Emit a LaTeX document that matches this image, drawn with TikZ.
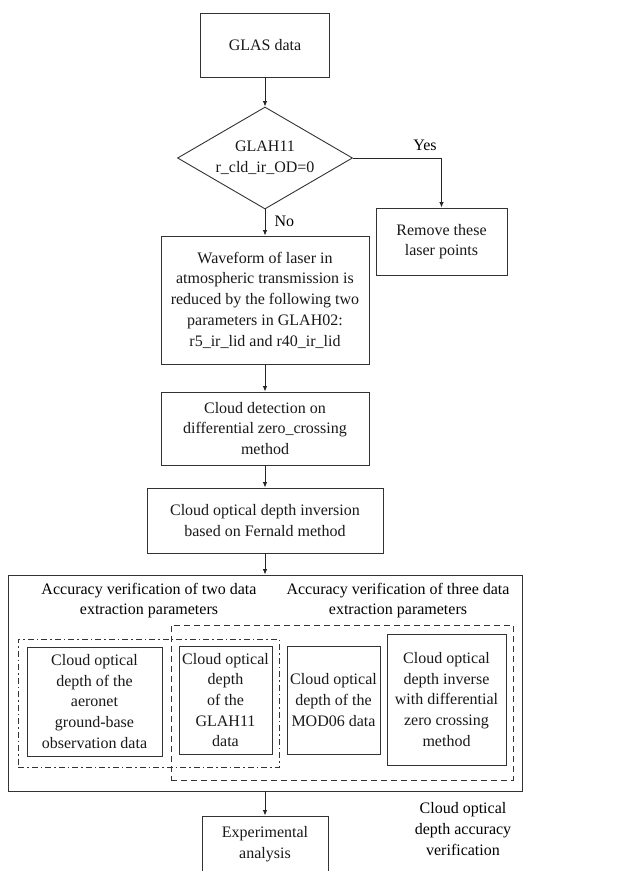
\documentclass[tikz,border=0pt]{standalone}
\usepackage{fontspec}
\setmainfont{Liberation Serif}
\usetikzlibrary{shapes.geometric,arrows.meta}

\begin{document}
\begin{tikzpicture}[x=1pt,y=-1pt,font=\fontsize{16}{20.7}\selectfont,
  box/.style={draw=black!80,line width=0.9pt,align=center,inner sep=0pt,text=black!90},
  wh/.style 2 args={minimum width=#1,minimum height=#2},
  arr/.style={draw=black!85,line width=0.9pt,-{Latex[length=5.5pt,width=4.5pt]}},
  dashbox/.style={draw=black!80,line width=0.9pt,dash pattern=on 6pt off 4pt,inner sep=0pt},
  dotbox/.style={draw=black!80,line width=0.9pt,dash pattern=on 6pt off 3pt on 1.5pt off 3pt,inner sep=0pt}]

\useasboundingbox[fill=white] (0,0) rectangle (617,871);

% main flow
\node[box,wh={129pt}{64pt}] (glas) at (265,45) {GLAS data};
\node[box,diamond,shape aspect=1.7,wh={175pt}{102pt}] (dec) at (265,158) {GLAH11\\r\_cld\_ir\_OD=0};
\node[box,wh={131pt}{67pt}] (remove) at (441.5,241.5) {Remove these\\laser points};
\node[box,wh={208pt}{128pt}] (wave) at (265,300) {Waveform of laser in\\atmospheric transmission is\\reduced by the following two\\parameters in GLAH02:\\r5\_ir\_lid and r40\_ir\_lid};
\node[box,wh={208pt}{73pt}] (detect) at (265,428.5) {Cloud detection on\\differential zero\_crossing\\method};
\node[box,wh={236pt}{65pt}] (fern) at (265,520.5) {Cloud optical depth inversion\\based on Fernald method};

% verification block
\node[box,wh={514pt}{216pt}] (verify) at (265,683) {};
\node[align=center] (twohead) at (149,600.5) {Accuracy verification of two data\\extraction parameters};
\node[align=center] (threehead) at (398,600.5) {Accuracy verification of three data\\extraction parameters};
\node[dotbox,wh={261pt}{128pt}] (two) at (148.5,703) {};
\node[dashbox,wh={342pt}{155pt}] (three) at (342,702.5) {};

\node[box,wh={135pt}{109pt}] (aeronet) at (94.5,701.5) {Cloud optical\\depth of the\\aeronet\\ground-base\\observation data};
\node[box,wh={93pt}{108pt}] (glah) at (225.5,700) {Cloud optical\\depth\\of the\\GLAH11\\data};
\node[box,wh={93pt}{108pt}] (mod) at (333.5,700) {Cloud optical\\depth of the\\MOD06 data};
\node[box,wh={119pt}{131pt}] (inverse) at (446.5,699.5) {Cloud optical\\depth inverse\\with differential\\zero crossing\\method};

\node[align=center] (acclabel) at (463,829) {Cloud optical\\depth accuracy\\verification};
\node[box,wh={126pt}{56pt}] (exper) at (265,844) {Experimental\\analysis};

% connectors
\draw[arr] (glas) -- (dec);
\draw[arr] (dec.east) -| (remove.north);
\node (yes) at (425,145) {Yes};
\draw[arr] (dec.south) -- (wave.north);
\node[anchor=west] (no) at (271,221) {No};
\draw[arr] (wave) -- (detect);
\draw[arr] (detect) -- (fern);
\draw[arr] (fern) -- (verify);
\draw[arr] (verify) -- (exper);

\end{tikzpicture}
\end{document}
